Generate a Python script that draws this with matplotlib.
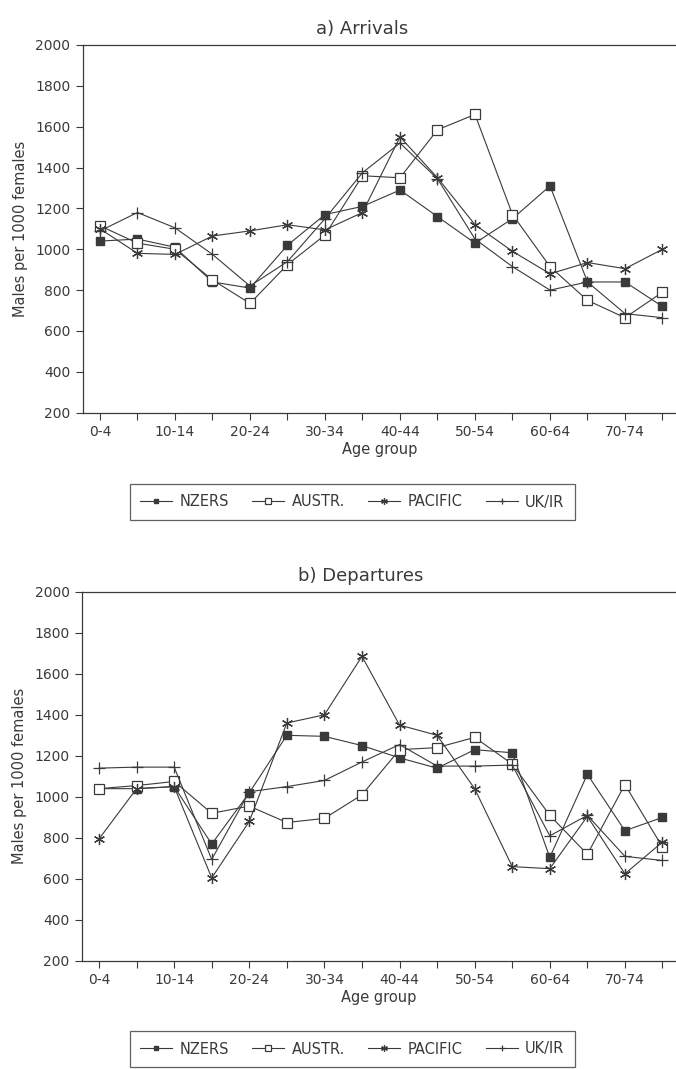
import matplotlib
matplotlib.use("Agg")
import matplotlib.pyplot as plt
import numpy as np

AGE_GROUPS = ["0-4", "5-9", "10-14", "15-19", "20-24", "25-29", "30-34", "35-39",
              "40-44", "45-49", "50-54", "55-59", "60-64", "65-69", "70-74", "75+"]
SERIES = ["NZERS", "AUSTR.", "PACIFIC", "UK/IR"]

# a) Arrivals - males per 1000 females
ARR_NZERS = [1040, 1050, 1010, 840, 810, 1020, 1170, 1210, 1290, 1160, 1030, 1150, 1310, 840, 840, 720]
ARR_AUSTR = [1115, 1030, 1000, 850, 735, 925, 1070, 1360, 1350, 1585, 1660, 1170, 915, 750, 665, 790]
ARR_PACIFIC = [1100, 980, 975, 1065, 1090, 1120, 1095, 1180, 1550, 1350, 1120, 990, 880, 935, 905, 1000]
ARR_UKIR = [1090, 1180, 1105, 975, 820, 940, 1150, 1375, 1520, 1345, 1050, 915, 800, 840, 685, 665]

# b) Departures
DEP_NZERS = [1040, 1040, 1050, 770, 1020, 1300, 1295, 1250, 1190, 1140, 1230, 1215, 705, 1110, 835, 900]
DEP_AUSTR = [1040, 1055, 1075, 920, 955, 875, 895, 1010, 1230, 1240, 1290, 1160, 910, 720, 1060, 755]
DEP_PACIFIC = [795, 1040, 1050, 605, 880, 1360, 1400, 1685, 1350, 1300, 1040, 660, 650, 905, 625, 780]
DEP_UKIR = [1140, 1145, 1145, 695, 1025, 1050, 1080, 1170, 1255, 1150, 1150, 1155, 810, 910, 710, 690]

INK = "#3a3a3a"
STYLES = [
    dict(marker="s", markersize=6, markerfacecolor=INK, markeredgecolor=INK),
    dict(marker="s", markersize=6.5, markerfacecolor="white", markeredgecolor=INK, markeredgewidth=0.9),
    dict(marker=(6, 2, 0), markersize=8, markeredgecolor=INK, markeredgewidth=0.9),
    dict(marker="+", markersize=8, markeredgecolor=INK, markeredgewidth=0.9),
]

plt.rcParams["font.family"] = ["DejaVu Sans"]
plt.rcParams["text.color"] = INK


def _panel(fig, rect, title, series_values, legend_y):
    ax = fig.add_axes(rect)
    x = np.arange(len(AGE_GROUPS))
    handles = []
    for vals, name, st in zip(series_values, SERIES, STYLES):
        h, = ax.plot(x, vals, color=INK, linewidth=0.8, label=name, **st)
        handles.append(h)

    ax.set_xlim(-0.453, 15.36)
    ax.set_ylim(200, 2000)
    ax.set_yticks(range(200, 2001, 200))
    ax.set_xticks(x)
    ax.set_xticklabels([lab if i % 2 == 0 else "" for i, lab in enumerate(AGE_GROUPS)])
    ax.tick_params(direction="out", length=5, width=0.8, colors=INK, labelsize=10, pad=4)
    for side in ["left", "bottom", "top"]:
        ax.spines[side].set_color(INK)
        ax.spines[side].set_linewidth(0.9)
    ax.spines["right"].set_visible(False)

    ax.set_xlabel("Age group", fontsize=10.5, color=INK, labelpad=2)
    ax.set_ylabel("Males per 1000 females", fontsize=10.5, color=INK, labelpad=5)
    ax.set_title(title, fontsize=13, color=INK, pad=8, x=0.47)

    leg = fig.legend(handles=handles, loc="center", bbox_to_anchor=(0.521, legend_y),
                     ncol=4, frameon=True, fancybox=False, edgecolor=INK,
                     fontsize=10.5, handlelength=2.2, handletextpad=0.5,
                     columnspacing=1.6, markerscale=0.6, borderpad=0.7)
    leg.get_frame().set_linewidth(0.9)
    return ax


def main():
    fig = plt.figure(figsize=(6.76, 10.69), dpi=100)
    _panel(fig, [83 / 676, 1 - 412.7 / 1069, 1 - 83 / 676, 367.7 / 1069],
           "a) Arrivals", [ARR_NZERS, ARR_AUSTR, ARR_PACIFIC, ARR_UKIR], 1 - 502 / 1069)
    _panel(fig, [82 / 676, 1 - 961 / 1069, 1 - 82 / 676, 369.3 / 1069],
           "b) Departures", [DEP_NZERS, DEP_AUSTR, DEP_PACIFIC, DEP_UKIR], 1 - 1049 / 1069)
    fig.savefig("out.png", dpi=100, facecolor="white")
    plt.close(fig)


if __name__ == "__main__":
    main()
